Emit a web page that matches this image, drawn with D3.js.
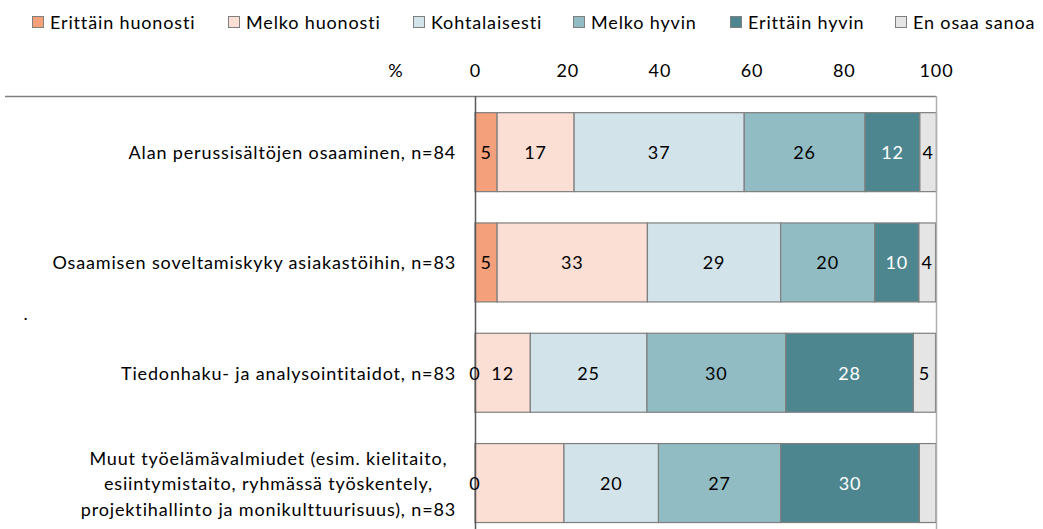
<!DOCTYPE html>
<html>
<head>
<meta charset="utf-8">
<script src="https://cdn.jsdelivr.net/npm/d3@7"></script>
<style>
  body { margin: 0; background: #fff; }
  svg text { font-family: Lato, "Open Sans", sans-serif; fill: #000; letter-spacing: 0.85px; }
</style>
</head>
<body>
<svg id="chart" width="1043" height="529"></svg>
<script>
// Data (percent of respondents)
const categories = [
  "Alan perussisältöjen osaaminen, n=84",
  "Osaamisen soveltamiskyky asiakastöihin, n=83",
  "Tiedonhaku- ja analysointitaidot, n=83",
  "Muut työelämävalmiudet (esim. kielitaito,|esiintymistaito, ryhmässä työskentely,|projektihallinto ja monikulttuurisuus), n=83"
];
const seriesNames = ["Erittäin huonosti", "Melko huonosti", "Kohtalaisesti", "Melko hyvin", "Erittäin hyvin", "En osaa sanoa"];
const erittainHuonosti = [4.8, 4.8, 0, 0];
const melkoHuonosti = [16.7, 32.6, 12.0, 19.3];
const kohtalaisesti = [36.9, 28.9, 25.3, 20.5];
const melkoHyvin = [26.2, 20.4, 30.1, 26.5];
const erittainHyvin = [11.9, 9.6, 27.7, 30.1];
const enOsaaSanoa = [3.6, 3.6, 4.8, 3.6];
// labels not shown in the original (series index, category index)
const hiddenLabels = [[1, 3], [5, 3]];
const xTicks = [0, 20, 40, 60, 80, 100];

const colors = ["#f4a07a", "#fbded4", "#d2e3ea", "#92bcc4", "#4e868f", "#e5e5e5"];
const textColors = ["#000", "#000", "#000", "#000", "#fff", "#000"];

const svg = d3.select("svg#chart");
const fontSize = 18;

const allSeries = [erittainHuonosti, melkoHuonosti, kohtalaisesti, melkoHyvin, erittainHyvin, enOsaaSanoa];

// build rows for the stack
const rows = categories.map((c, i) => {
  let r = { cat: c };
  seriesNames.forEach((s, j) => { r[s] = allSeries[j][i]; });
  return r;
});
const stacked = d3.stack().keys(seriesNames)(rows);

const x = d3.scaleLinear().domain([0, 100]).range([475, 936]);
const y = d3.scaleBand().domain(categories).range([97, 538.2])
  .paddingInner(0.284).paddingOuter(0.142);

// legend
const legendX = [32, 228, 413, 573, 730, 895];
const legend = svg.append("g").attr("class", "legend");
seriesNames.forEach((s, i) => {
  legend.append("rect")
    .attr("x", legendX[i] + 0.5).attr("y", 16.5)
    .attr("width", 11).attr("height", 11)
    .attr("fill", colors[i]).attr("stroke", "#7f7f7f").attr("stroke-width", 1);
  legend.append("text")
    .attr("x", legendX[i] + 18).attr("y", 22)
    .attr("dominant-baseline", "central")
    .style("font-size", fontSize + "px")
    .text(s);
});

// top axis labels
const axis = svg.append("g")
  .attr("transform", "translate(0,70)")
  .call(d3.axisTop(x).tickValues(xTicks).tickSize(0).tickPadding(0));
axis.select(".domain").remove();
axis.selectAll("text")
  .attr("y", 0).attr("dy", null)
  .attr("dominant-baseline", "central")
  .style("font-size", fontSize + "px")
  .style("font-family", "Lato, sans-serif")
  .attr("fill", "#000");
svg.append("text").attr("x", 396).attr("y", 70)
  .attr("text-anchor", "middle").attr("dominant-baseline", "central")
  .style("font-size", fontSize + "px").text("%");

// bars
const layers = svg.append("g").selectAll("g.layer").data(stacked).join("g")
  .attr("class", "layer")
  .attr("fill", (d, i) => colors[i]);

layers.selectAll("rect").data(d => d).join("rect")
  .attr("x", d => x(d[0]))
  .attr("y", d => y(d.data.cat))
  .attr("width", d => x(d[1]) - x(d[0]))
  .attr("height", y.bandwidth())
  .attr("stroke", "#7f7f7f")
  .attr("stroke-width", 1.2);

// frame lines
svg.append("line").attr("x1", 5).attr("x2", 936).attr("y1", 96.5).attr("y2", 96.5)
  .attr("stroke", "#808080").attr("stroke-width", 1.5);
svg.append("line").attr("x1", 936.5).attr("x2", 936.5).attr("y1", 96).attr("y2", 529)
  .attr("stroke", "#b0b0b0").attr("stroke-width", 1.5);
svg.append("line").attr("x1", 475.5).attr("x2", 475.5).attr("y1", 96).attr("y2", 529)
  .attr("stroke", "#595959").attr("stroke-width", 1.5);

// value labels
stacked.forEach((layer, si) => {
  layer.forEach((d, ci) => {
    if (hiddenLabels.some(h => h[0] === si && h[1] === ci)) return;
    svg.append("text")
      .attr("x", (x(d[0]) + x(d[1])) / 2)
      .attr("y", y(d.data.cat) + y.bandwidth() / 2)
      .attr("text-anchor", "middle")
      .attr("dominant-baseline", "central")
      .style("font-size", fontSize + "px")
      .style("fill", textColors[si])
      .text(Math.round(d[1] - d[0]));
  });
});

// category labels (right aligned block, lines centered)
const catLabels = svg.append("g");
categories.forEach(c => {
  const lines = c.split("|");
  const cy = y(c) + y.bandwidth() / 2;
  const lineH = 25.5;
  const g = catLabels.append("g");
  const texts = lines.map((l, k) => g.append("text")
    .attr("y", cy + (k - (lines.length - 1) / 2) * lineH)
    .attr("dominant-baseline", "central")
    .attr("text-anchor", "middle")
    .style("font-size", fontSize + "px")
    .text(l));
  const maxW = d3.max(texts, t => t.node().getComputedTextLength());
  texts.forEach(t => t.attr("x", 456 - maxW / 2));
});

// stray dot from original
svg.append("text").attr("x", 26).attr("y", 313)
  .attr("text-anchor", "middle").attr("dominant-baseline", "central")
  .style("font-size", fontSize + "px").text(".");
</script>
</body>
</html>
